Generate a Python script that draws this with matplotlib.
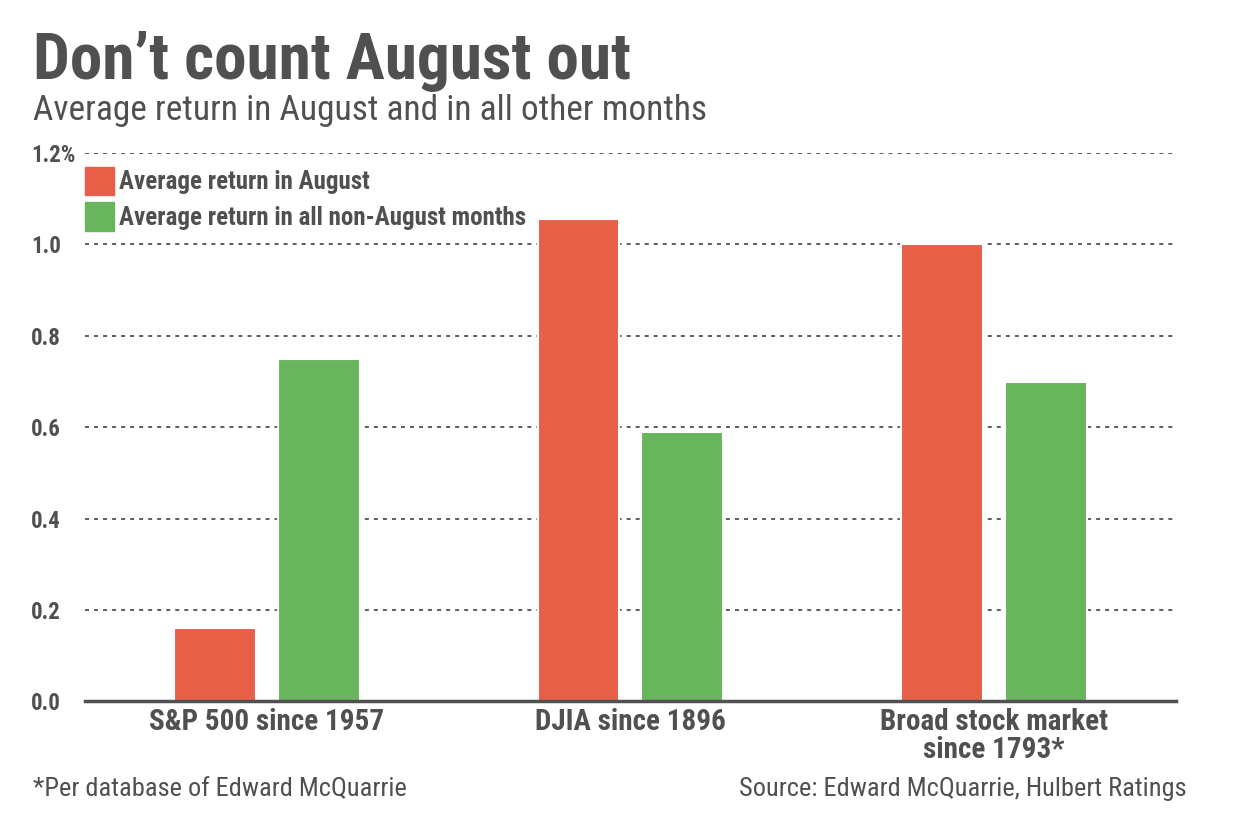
import matplotlib
matplotlib.use("Agg")
import matplotlib.pyplot as plt
from matplotlib.patches import Rectangle
from matplotlib import font_manager
import numpy as np

# данные
categories = ["S&P 500 since 1957", "DJIA since 1896", "Broad stock market\nsince 1793*"]
august = [0.16, 1.055, 1.0]
other_months = [0.75, 0.59, 0.70]
yticks = [0.0, 0.2, 0.4, 0.6, 0.8, 1.0, 1.2]
ytick_labels = ["0.0", "0.2", "0.4", "0.6", "0.8", "1.0", "1.2%"]

red = "#E85F48"
green = "#69B55D"
dark = "#505050"

installed = {f.name for f in font_manager.fontManager.ttflist}
cond = [f for f in ["Roboto Condensed", "Liberation Sans Narrow", "Roboto"] if f in installed]
plt.rcParams["font.family"] = cond + ["DejaVu Sans"]

fig = plt.figure(figsize=(12.52, 8.32), dpi=100)
ax = fig.add_axes([0.068, 0.157, 0.871, 0.659])

x = np.arange(len(categories))
w = 0.225
off = 0.143
ax.bar(x - off, august, w, color=red, edgecolor="white", linewidth=1.5, zorder=3)
ax.bar(x + off, other_months, w, color=green, edgecolor="white", linewidth=1.5, zorder=3)

ax.set_xlim(-0.5, 2.5)
ax.set_ylim(0, 1.2)
ax.set_yticks(yticks)
ax.set_yticklabels(ytick_labels)
for t in yticks[1:]:
    ax.axhline(t, color=dark, linestyle=(0, (2.2, 2.8)), linewidth=1.3, zorder=1)

for s in ["top", "right", "left"]:
    ax.spines[s].set_visible(False)
ax.spines["bottom"].set_color(dark)
ax.spines["bottom"].set_linewidth(2.5)
ax.spines["bottom"].set_zorder(4)

ax.set_xticks(x)
ax.set_xticklabels(categories, fontsize=21, fontweight="bold", color=dark, linespacing=1.0)
ax.tick_params(axis="x", length=0, pad=5)
ax.tick_params(axis="y", length=0, labelsize=16.5, labelcolor=dark, pad=39)
for lab in ax.get_yticklabels():
    lab.set_fontweight("bold")
    lab.set_horizontalalignment("left")

# легенда
for i, (c, txt) in enumerate([(red, "Average return in August"),
                               (green, "Average return in all non-August months")]):
    y0 = 1.108 - i * 0.078
    ax.add_patch(Rectangle((-0.5, y0), 0.08, 0.062, color=c, zorder=3, clip_on=False))
    ax.text(-0.406, y0 + 0.029, txt, fontsize=18, fontweight="bold", color=dark,
            va="center", ha="left", zorder=3)

fig.text(0.026, 0.905, "Don\u2019t count August out", fontsize=47, fontweight="bold",
         color=dark, ha="left", va="baseline")
fig.text(0.026, 0.856, "Average return in August and in all other months", fontsize=25.5,
         color=dark, ha="left", va="baseline")
fig.text(0.026, 0.043, "*Per database of Edward McQuarrie", fontsize=19,
         color=dark, ha="left", va="baseline")
fig.text(0.948, 0.043, "Source: Edward McQuarrie, Hulbert Ratings", fontsize=19,
         color=dark, ha="right", va="baseline")

fig.savefig("out.png", dpi=100, facecolor="white")
